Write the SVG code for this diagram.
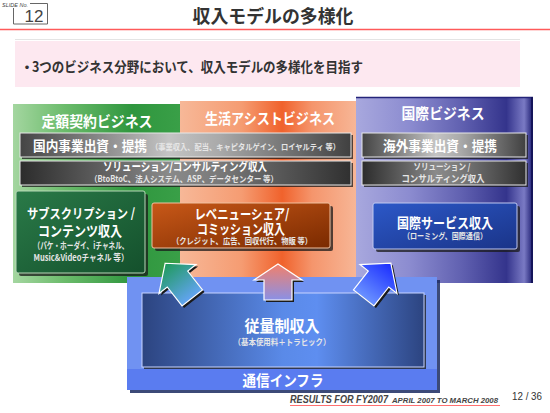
<svg xmlns="http://www.w3.org/2000/svg" width="550" height="413" viewBox="0 0 550 413">
<defs>
<style>
.jp{font-family:"Noto Sans CJK JP","Noto Sans CJK SC",sans-serif;font-weight:bold;}
.w{fill:#ffffff;}
.lg{fill:#e6e6e6;}
.sh{fill:#1a1a1a;opacity:0.75;}
.bar{stroke:#e8e8e8;stroke-width:1;}
.en{font-family:"Liberation Sans",Arial,sans-serif;}
</style>
<linearGradient id="gGreen" x1="0" y1="0" x2="1" y2="0">
<stop offset="0" stop-color="#a4d6a0"/><stop offset="0.3" stop-color="#6cbc6c"/><stop offset="0.7" stop-color="#2f963e"/><stop offset="1" stop-color="#3aa048"/>
</linearGradient>
<linearGradient id="gOrange" x1="0" y1="0" x2="1" y2="0">
<stop offset="0" stop-color="#f7b898"/><stop offset="0.35" stop-color="#f59c72"/><stop offset="0.58" stop-color="#f0622c"/><stop offset="0.75" stop-color="#f5956c"/><stop offset="1" stop-color="#f7b696"/>
</linearGradient>
<linearGradient id="gBlue" x1="0" y1="0" x2="1" y2="0">
<stop offset="0" stop-color="#a8a8de"/><stop offset="0.3" stop-color="#8c8cd0"/><stop offset="0.6" stop-color="#6060b0"/><stop offset="0.85" stop-color="#34348c"/><stop offset="0.95" stop-color="#7a7ac4"/><stop offset="1" stop-color="#1c1c70"/>
</linearGradient>
<linearGradient id="gBar1" x1="0" y1="0" x2="1" y2="0">
<stop offset="0" stop-color="#444"/><stop offset="0.45" stop-color="#c4c4c4"/><stop offset="0.6" stop-color="#aaa"/><stop offset="1" stop-color="#404040"/>
</linearGradient>
<linearGradient id="gBar2" x1="0" y1="0" x2="1" y2="0">
<stop offset="0" stop-color="#2c2c2c"/><stop offset="0.45" stop-color="#8a8a8a"/><stop offset="0.6" stop-color="#7a7a7a"/><stop offset="1" stop-color="#303030"/>
</linearGradient>
<linearGradient id="gSubG" x1="0" y1="0" x2="1" y2="1">
<stop offset="0" stop-color="#2a7a48"/><stop offset="1" stop-color="#14502c"/>
</linearGradient>
<linearGradient id="gSubO" x1="0" y1="0" x2="1" y2="1">
<stop offset="0" stop-color="#c85818"/><stop offset="1" stop-color="#7a2a00"/>
</linearGradient>
<linearGradient id="gSubB" x1="0" y1="0" x2="1" y2="1">
<stop offset="0" stop-color="#2c58c8"/><stop offset="1" stop-color="#1a3488"/>
</linearGradient>
<linearGradient id="gInner" x1="0" y1="0" x2="1" y2="0">
<stop offset="0" stop-color="#2c4480"/><stop offset="0.5" stop-color="#5a8ae8"/><stop offset="0.62" stop-color="#5e8ef0"/><stop offset="1" stop-color="#2c4480"/>
</linearGradient>
<linearGradient id="gArrL" x1="0" y1="0" x2="0" y2="1">
<stop offset="0" stop-color="#1e9a5a"/><stop offset="1" stop-color="#62a4f2"/>
</linearGradient>
<linearGradient id="gArrM" x1="0" y1="0" x2="0" y2="1">
<stop offset="0" stop-color="#f2806a"/><stop offset="1" stop-color="#8a90e6"/>
</linearGradient>
<linearGradient id="gArrR" x1="0" y1="0" x2="0" y2="1">
<stop offset="0" stop-color="#1a2cff"/><stop offset="1" stop-color="#6a92ff"/>
</linearGradient>
<filter id="blur1" x="-5%" y="-200%" width="110%" height="500%"><feGaussianBlur stdDeviation="1.5"/></filter>
</defs>

<rect x="0" y="0" width="550" height="413" fill="#ffffff"/>

<g id="header">
<text x="2" y="7" class="en" font-size="5.5" font-style="italic" fill="#444">SLIDE No.</text>
<path d="M30,3.5 H47.5 V24 H13.5 V8" fill="none" stroke="#666" stroke-width="1"/>
<text x="34" y="22" class="en" font-size="17" text-anchor="middle" fill="#444">12</text>
<text x="273" y="23" class="jp" font-size="18" text-anchor="middle" fill="#333" textLength="161" lengthAdjust="spacingAndGlyphs">収入モデルの多様化</text>
<line x1="0" y1="29.5" x2="550" y2="29.5" stroke="#ff8080" stroke-width="4" opacity="0.6" filter="url(#blur1)"/>
<line x1="0" y1="29.5" x2="550" y2="29.5" stroke="#ff5a5a" stroke-width="1.5"/>
<line x1="15" y1="39.5" x2="520" y2="39.5" stroke="#e4e4e4" stroke-width="1"/>
</g>

<g id="banner">
<rect x="15" y="41" width="505" height="46" fill="#fde8f0"/>
<text x="20" y="72" class="jp" font-size="14" fill="#333">・</text>
<text x="32" y="72" class="jp" font-size="14" fill="#333" textLength="331" lengthAdjust="spacingAndGlyphs">3つのビジネス分野において、収入モデルの多様化を目指す</text>
</g>

<g id="panel-green">
<rect x="13" y="104" width="170" height="179" fill="url(#gGreen)"/>
<text x="97" y="127" class="jp w" font-size="15" text-anchor="middle" textLength="111" lengthAdjust="spacingAndGlyphs">定額契約ビジネス</text>
</g>

<g id="panel-orange">
<rect x="180" y="101" width="176" height="182" fill="url(#gOrange)"/>
<text x="270" y="124" class="jp w" font-size="15" text-anchor="middle" textLength="130" lengthAdjust="spacingAndGlyphs">生活アシストビジネス</text>
</g>

<g id="panel-blue">
<rect x="356" y="97" width="177" height="186" fill="url(#gBlue)"/>
<line x1="356" y1="97.5" x2="533" y2="97.5" stroke="#24247a" stroke-width="1.5"/>
<line x1="532" y1="97" x2="532" y2="283" stroke="#14145a" stroke-width="2"/>
<text x="443" y="119" class="jp w" font-size="15" text-anchor="middle" textLength="83" lengthAdjust="spacingAndGlyphs">国際ビジネス</text>
</g>

<g id="bar-domestic-invest">
<rect x="22" y="135" width="331" height="24" class="sh"/>
<rect x="20" y="133" width="331" height="24" fill="url(#gBar1)" class="bar"/>
<text x="33" y="151" class="jp w" font-size="14" textLength="114" lengthAdjust="spacingAndGlyphs">国内事業出資・提携</text>
<text x="151" y="150" class="jp lg" font-size="8" textLength="189" lengthAdjust="spacingAndGlyphs">（事業収入、配当、キャピタルゲイン、ロイヤルティ 等）</text>
</g>

<g id="bar-domestic-solution">
<rect x="22" y="163" width="331" height="24" class="sh"/>
<rect x="20" y="161" width="331" height="24" fill="url(#gBar2)" class="bar"/>
<text x="185" y="171" class="jp w" font-size="11.5" text-anchor="middle" textLength="164" lengthAdjust="spacingAndGlyphs">ソリューション/コンサルティング収入</text>
<text x="184" y="182" class="jp lg" font-size="8.5" text-anchor="middle" textLength="188" lengthAdjust="spacingAndGlyphs">（BtoBtoC、法人システム、ASP、データセンター 等）</text>
</g>

<g id="bar-overseas-invest">
<rect x="364" y="135" width="164" height="24" class="sh"/>
<rect x="362" y="133" width="164" height="24" fill="url(#gBar1)" class="bar"/>
<text x="440" y="151" class="jp w" font-size="14" text-anchor="middle" textLength="114" lengthAdjust="spacingAndGlyphs">海外事業出資・提携</text>
</g>

<g id="bar-overseas-solution">
<rect x="364" y="163" width="164" height="24" class="sh"/>
<rect x="362" y="161" width="164" height="24" fill="url(#gBar2)" class="bar"/>
<text x="442" y="170" class="jp lg" font-size="9" text-anchor="middle" textLength="57" lengthAdjust="spacingAndGlyphs">ソリューション /</text>
<text x="443" y="182" class="jp lg" font-size="9.5" text-anchor="middle" textLength="83" lengthAdjust="spacingAndGlyphs">コンサルティング収入</text>
</g>

<g id="box-subscription">
<rect x="19" y="194" width="129" height="82" rx="2" class="sh"/>
<rect x="16" y="191" width="129" height="82" rx="2" fill="url(#gSubG)" stroke="#b8d8b8" stroke-width="1"/>
<text x="81" y="218" class="jp w" font-size="13" text-anchor="middle" textLength="108" lengthAdjust="spacingAndGlyphs">サブスクリプション /</text>
<text x="80" y="236" class="jp w" font-size="14" text-anchor="middle" textLength="84" lengthAdjust="spacingAndGlyphs">コンテンツ収入</text>
<text x="81" y="249" class="jp lg" font-size="9" text-anchor="middle" textLength="95" lengthAdjust="spacingAndGlyphs">（パケ・ホーダイ、iチャネル、</text>
<text x="81" y="261" class="jp lg" font-size="9" text-anchor="middle" textLength="95" lengthAdjust="spacingAndGlyphs">Music&amp;Videoチャネル 等）</text>
</g>

<g id="box-revenue-share">
<rect x="155" y="206" width="178" height="45" rx="2" class="sh"/>
<rect x="152" y="203" width="178" height="45" rx="2" fill="url(#gSubO)" stroke="#f0c0a0" stroke-width="1"/>
<text x="242" y="219" class="jp w" font-size="13.5" text-anchor="middle" textLength="95" lengthAdjust="spacingAndGlyphs">レベニューシェア/</text>
<text x="241" y="234" class="jp w" font-size="13.5" text-anchor="middle" textLength="88" lengthAdjust="spacingAndGlyphs">コミッション収入</text>
<text x="242" y="244" class="jp lg" font-size="8.5" text-anchor="middle" textLength="140" lengthAdjust="spacingAndGlyphs">（クレジット、広告、回収代行、物販 等）</text>
</g>

<g id="box-intl-service">
<rect x="376" y="206" width="144" height="46" rx="2" class="sh"/>
<rect x="373" y="203" width="144" height="46" rx="2" fill="url(#gSubB)" stroke="#c0c8f0" stroke-width="1"/>
<text x="445" y="228" class="jp w" font-size="14" text-anchor="middle" textLength="96" lengthAdjust="spacingAndGlyphs">国際サービス収入</text>
<text x="445" y="239" class="jp lg" font-size="8.5" text-anchor="middle" textLength="84" lengthAdjust="spacingAndGlyphs">（ローミング、国際通信）</text>
</g>

<g id="panel-infra">
<rect x="130" y="280" width="310" height="113" fill="#1a2a60" opacity="0.85"/>
<rect x="127" y="277" width="310" height="113" fill="#7092f2"/>
<rect x="127" y="369" width="310" height="21" fill="#5a7cf0"/>
<text x="283" y="386" class="jp w" font-size="15" text-anchor="middle" textLength="81" lengthAdjust="spacingAndGlyphs">通信インフラ</text>
</g>

<g id="box-usage">
<rect x="144" y="295" width="282" height="74" class="sh"/>
<rect x="142" y="293" width="282" height="74" fill="url(#gInner)" stroke="#c8d4ff" stroke-width="1"/>
<text x="282" y="332" class="jp w" font-size="16" text-anchor="middle" textLength="75" lengthAdjust="spacingAndGlyphs">従量制収入</text>
<text x="282" y="345" class="jp lg" font-size="8.5" text-anchor="middle" textLength="97" lengthAdjust="spacingAndGlyphs">（基本使用料＋トラヒック）</text>
</g>

<g id="connectors">
<g transform="translate(2,2)"><polygon transform="translate(177.5,279) rotate(-38)" points="0,-20 23.5,0 13,0 13,24 -13,24 -13,0 -23.5,0" fill="#1a1a1a"/></g>
<polygon transform="translate(177.5,279) rotate(-38)" points="0,-20 23.5,0 13,0 13,24 -13,24 -13,0 -23.5,0" fill="url(#gArrL)" stroke="#ffffff" stroke-width="1.2" stroke-linejoin="miter"/>
<g transform="translate(2,2)"><polygon transform="translate(278,280)" points="0,-16 24,0 14,0 14,20 -14,20 -14,0 -24,0" fill="#1a1a1a"/></g>
<polygon transform="translate(278,280)" points="0,-16 24,0 14,0 14,20 -14,20 -14,0 -24,0" fill="url(#gArrM)" stroke="#ffffff" stroke-width="1.2"/>
<g transform="translate(2,2)"><polygon transform="translate(378.5,279) rotate(38)" points="0,-20 23.5,0 13,0 13,24 -13,24 -13,0 -23.5,0" fill="#1a1a1a"/></g>
<polygon transform="translate(378.5,279) rotate(38)" points="0,-20 23.5,0 13,0 13,24 -13,24 -13,0 -23.5,0" fill="url(#gArrR)" stroke="#ffffff" stroke-width="1.2"/>
</g>

<g id="footer">
<line x1="290" y1="405.5" x2="500" y2="405.5" stroke="#ff8080" stroke-width="3.5" opacity="0.6" filter="url(#blur1)"/>
<line x1="290" y1="405.5" x2="500" y2="405.5" stroke="#ff7070" stroke-width="1"/>
<text x="290" y="403" class="en" font-size="10.5" font-weight="bold" font-style="italic" fill="#444" textLength="98" lengthAdjust="spacingAndGlyphs">RESULTS FOR FY2007</text>
<text x="392" y="403" class="en" font-size="7" font-weight="bold" font-style="italic" fill="#444" textLength="106" lengthAdjust="spacingAndGlyphs">APRIL 2007 TO MARCH 2008</text>
<text x="512" y="400" class="en" font-size="10.5" fill="#333" textLength="30" lengthAdjust="spacingAndGlyphs">12 / 36</text>
</g>
</svg>
